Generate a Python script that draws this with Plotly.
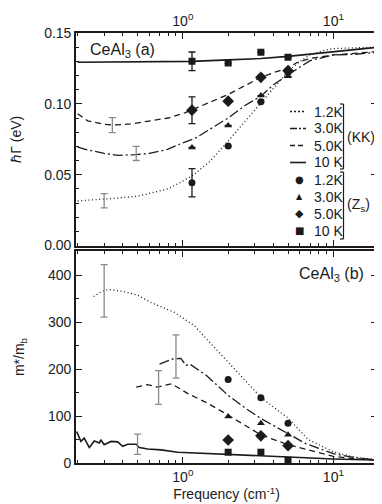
"""CeAl3 scattering rate and effective mass vs frequency (two stacked log panels)."""

import plotly.graph_objects as go

FONT = "Liberation Sans, Arial, sans-serif"
INK = "#1b1b1b"
GREY = "#8a8a8a"

# ---- panel (a): hbar*Gamma (eV) from Kramers-Kronig ----
freq_a_12 = [0.2, 0.23, 0.3, 0.37, 0.5, 0.8, 1.15, 1.5, 2.0, 2.6, 3.3, 4.0, 5.0, 6.0, 7.0, 8.5, 10, 14, 20]
gamma_kk_12 = [0.0314, 0.0318, 0.0326, 0.0335, 0.0348, 0.040, 0.049, 0.059, 0.0737, 0.088, 0.1007,
               0.1115, 0.123, 0.130, 0.1345, 0.1375, 0.139, 0.1395, 0.140]
freq_a_30 = [0.2, 0.233, 0.3, 0.37, 0.49, 0.6, 0.79, 1.0, 1.2, 1.5, 2.0, 2.6, 3.3, 4.0, 5.0, 6.0, 7.0, 10, 14, 20]
gamma_kk_30 = [0.0695, 0.0675, 0.065, 0.0636, 0.0642, 0.065, 0.0678, 0.0725, 0.0755, 0.082, 0.090,
               0.099, 0.1054, 0.1135, 0.1206, 0.126, 0.1305, 0.1345, 0.135, 0.1365]
freq_a_50 = [0.2, 0.233, 0.3, 0.34, 0.45, 0.615, 0.8, 1.03, 1.32, 2.0, 2.6, 3.3, 4.0, 5.0, 5.7, 7.0, 10, 14, 20]
gamma_kk_50 = [0.093, 0.088, 0.0855, 0.085, 0.0858, 0.0878, 0.090, 0.0936, 0.0983, 0.1066, 0.113,
               0.1187, 0.122, 0.1253, 0.129, 0.132, 0.1345, 0.1355, 0.137]
freq_a_10 = [0.2, 0.5, 1.15, 2.0, 3.3, 5.0, 7.0, 10, 14, 20]
gamma_kk_10 = [0.1293, 0.1296, 0.130, 0.131, 0.132, 0.1335, 0.135, 0.137, 0.1385, 0.140]

# surface impedance (Zs) points
freq_zs_a = [1.15, 2.0, 3.3, 5.0]
gamma_zs_12 = [0.0443, 0.0702, 0.1014, 0.1225]
gamma_zs_30 = [0.0692, 0.0847, 0.1058, 0.1194]
gamma_zs_50 = [0.0955, 0.1019, 0.1187, 0.1234]
gamma_zs_10 = [0.1300, 0.1288, 0.1364, 0.1328]
gamma_zs_err_12 = [0.0100, None, None, None]
gamma_zs_err_30 = [None, None, None, None]
gamma_zs_err_50 = [0.0094, None, None, None]
gamma_zs_err_10 = [0.0066, None, None, None]

# representative error bars on the KK curves (1.2K, 3.0K, 5.0K)
gamma_bar_freq = [0.30, 0.49, 0.34]
gamma_bar_val = [0.0316, 0.0650, 0.0850]
gamma_bar_err = [0.0050, 0.0050, 0.0053]

# ---- panel (b): m*/m_b ----
freq_b_12 = [0.255, 0.29, 0.325, 0.41, 0.5, 0.615, 0.88, 1.2, 1.5, 2.0, 2.6, 3.3, 4.0, 5.0, 6.8, 10, 14, 20]
mass_kk_12 = [355, 366, 370, 365, 358, 342, 321, 292, 258, 215, 175, 140, 119, 96, 50, 24, 12, 7]
freq_b_30 = [0.70, 0.78, 0.86, 0.97, 1.05, 1.11, 1.43, 2.0, 2.6, 3.3, 5.0, 6.5, 10, 14, 20]
mass_kk_30 = [211, 217, 222, 223, 208, 211, 187, 144, 117, 95, 63, 42, 20, 11, 6]
freq_b_50 = [0.49, 0.58, 0.68, 0.84, 1.08, 1.47, 2.0, 2.6, 3.3, 5.0, 6.8, 10, 14, 20]
mass_kk_50 = [162, 167, 162, 169, 148, 127, 102, 80, 60, 39, 28, 14, 9, 6]
freq_b_10 = [0.197, 0.21, 0.221, 0.239, 0.258, 0.279, 0.285, 0.30, 0.333, 0.369, 0.398, 0.43, 0.489,
             0.514, 0.585, 0.717, 0.926, 1.32, 1.63, 2.0, 3.3, 5.0, 10, 20]
mass_kk_10 = [67, 46, 53, 33, 47, 42.5, 49.6, 39, 46, 45, 35.5, 40, 40, 33, 30, 28, 23, 21, 19, 18,
              15, 12, 8.5, 6]

freq_zs_b = [2.0, 3.3, 5.0]
mass_zs_12 = [178, 139, 85]
mass_zs_30 = [99, 85, 60]
mass_zs_50 = [49, 58, 37]
mass_zs_10 = [23, 23, 6]

mass_bar_freq = [0.30, 0.90, 0.69, 0.50]
mass_bar_val = [367, 227, 161, 40]
mass_bar_err = [56, 46, 36, 21.5]

temps = ["1.2K", "3.0K", "5.0K", "10 K"]
dashes = ["1px,2.6px", "10px,3px,2px,3px", "6px,4px", "solid"]
legend_dashes = ["2px,2px", "7px,2px,2px,2px", "5px,3px", "solid"]
symbols = ["circle", "triangle-up", "diamond", "square"]
symbol_sizes = [7, 7, 9, 7]
glyphs = ["\u25cf", "\u25b2", "\u25c6", "\u25a0"]
glyph_sizes = [10, 8, 11, 10]

# plot-area geometry (pixels) used to place the hand-made legend
L, R, T, B = 68, 369, 25, 455


def px(x):
    return (x - L) / (R - L)


def py(y):
    return (B - y) / (B - T)


fig = go.Figure()

kk_a = [(freq_a_12, gamma_kk_12), (freq_a_30, gamma_kk_30), (freq_a_50, gamma_kk_50), (freq_a_10, gamma_kk_10)]
kk_b = [(freq_b_12, mass_kk_12), (freq_b_30, mass_kk_30), (freq_b_50, mass_kk_50), (freq_b_10, mass_kk_10)]
zs_a = [gamma_zs_12, gamma_zs_30, gamma_zs_50, gamma_zs_10]
zs_a_err = [gamma_zs_err_12, gamma_zs_err_30, gamma_zs_err_50, gamma_zs_err_10]
zs_b = [mass_zs_12, mass_zs_30, mass_zs_50, mass_zs_10]

for i in range(4):
    width = 1.6 if dashes[i] == "solid" else 1.3
    fig.add_trace(go.Scatter(x=kk_a[i][0], y=kk_a[i][1], mode="lines", xaxis="x2", yaxis="y2",
                             line=dict(color=INK, width=width, dash=dashes[i]), showlegend=False))
    fig.add_trace(go.Scatter(x=kk_b[i][0], y=kk_b[i][1], mode="lines", xaxis="x", yaxis="y",
                             line=dict(color=INK, width=width, dash=dashes[i]), showlegend=False))

# grey error bars sitting on the KK curves
fig.add_trace(go.Scatter(x=gamma_bar_freq, y=gamma_bar_val, mode="markers", xaxis="x2", yaxis="y2",
                         marker=dict(size=1, color="rgba(0,0,0,0)"),
                         error_y=dict(type="data", array=gamma_bar_err, color=GREY, thickness=1.3, width=3.5),
                         showlegend=False))
fig.add_trace(go.Scatter(x=mass_bar_freq, y=mass_bar_val, mode="markers", xaxis="x", yaxis="y",
                         marker=dict(size=1, color="rgba(0,0,0,0)"),
                         error_y=dict(type="data", array=mass_bar_err, color=GREY, thickness=1.3, width=3.5),
                         showlegend=False))

for i in range(4):
    fig.add_trace(go.Scatter(x=freq_zs_a, y=zs_a[i], mode="markers", xaxis="x2", yaxis="y2",
                             marker=dict(symbol=symbols[i], size=symbol_sizes[i], color=INK),
                             error_y=dict(type="data", array=zs_a_err[i], color=INK, thickness=1.3, width=3.5),
                             showlegend=False))
    fig.add_trace(go.Scatter(x=freq_zs_b, y=zs_b[i], mode="markers", xaxis="x", yaxis="y",
                             marker=dict(symbol=symbols[i], size=symbol_sizes[i], color=INK),
                             showlegend=False))

# hand-drawn legend: line samples, marker glyphs, brackets
shapes = []
annotations = []
row_y = [103.5 + 17 * k for k in range(8)]
for i in range(4):
    yk = py(row_y[i])
    shapes.append(dict(type="line", xref="paper", yref="paper", x0=px(282), x1=px(298), y0=yk, y1=yk,
                       line=dict(color=INK, width=1.6 if i == 3 else 1.3, dash=legend_dashes[i])))
    annotations.append(dict(x=px(304), y=yk, xref="paper", yref="paper", text=temps[i], showarrow=False,
                            xanchor="left", yanchor="middle", font=dict(size=14, family=FONT, color=INK)))
    ym = py(row_y[i + 4])
    annotations.append(dict(x=px(291), y=ym, xref="paper", yref="paper", text=glyphs[i], showarrow=False,
                            xanchor="center", yanchor="middle",
                            font=dict(size=glyph_sizes[i], family="DejaVu Sans", color=INK)))
    annotations.append(dict(x=px(304), y=ym, xref="paper", yref="paper", text=temps[i], showarrow=False,
                            xanchor="left", yanchor="middle", font=dict(size=14, family=FONT, color=INK)))

for (y0, y1) in [(96, 161), (164, 231)]:
    for seg in [(px(332), px(335.5), py(y0), py(y0)), (px(335.5), px(335.5), py(y0), py(y1)),
                (px(332), px(335.5), py(y1), py(y1))]:
        shapes.append(dict(type="line", xref="paper", yref="paper", x0=seg[0], x1=seg[1], y0=seg[2], y1=seg[3],
                           line=dict(color=INK, width=1.2)))

annotations += [
    dict(x=px(337), y=py(129), xref="paper", yref="paper", text="(KK)", showarrow=False,
         xanchor="left", yanchor="middle", font=dict(size=14, family=FONT, color=INK)),
    dict(x=px(337), y=py(197), xref="paper", yref="paper", text="(Z<sub>s</sub>)", showarrow=False,
         xanchor="left", yanchor="middle", font=dict(size=14, family=FONT, color=INK)),
    dict(x=px(80), y=py(42), xref="paper", yref="paper", text="CeAl<sub>3</sub> (a)", showarrow=False,
         xanchor="left", yanchor="middle", font=dict(size=16, family=FONT, color=INK)),
    dict(x=px(358), y=py(266), xref="paper", yref="paper", text="CeAl<sub>3</sub> (b)", showarrow=False,
         xanchor="right", yanchor="middle", font=dict(size=16, family=FONT, color=INK)),
]

minor_x = [0.2, 0.3, 0.4, 0.5, 0.6, 0.7, 0.8, 0.9, 2, 3, 4, 5, 6, 7, 8, 9]
xaxis_common = dict(
    type="log", range=[-0.71, 1.29], tickvals=[1, 10], ticktext=["10<sup>0</sup>", "10<sup>1</sup>"],
    ticks="inside", ticklen=6, tickwidth=1.2, tickcolor=INK,
    minor=dict(tickvals=minor_x, ticks="inside", ticklen=3, tickwidth=1, tickcolor=INK),
    showline=True, linecolor=INK, linewidth=1.6, mirror="allticks", showgrid=False, zeroline=False,
    tickfont=dict(size=14, family=FONT, color=INK), automargin=False,
)
yaxis_common = dict(
    ticks="inside", ticklen=6, tickwidth=1.2, tickcolor=INK,
    showline=True, linecolor=INK, linewidth=1.6, mirror="allticks", showgrid=False, zeroline=False,
    tickfont=dict(size=14, family=FONT, color=INK), automargin=False,
)

fig.update_layout(
    width=382, height=504,
    margin=dict(l=L, r=382 - R, t=T, b=504 - B),
    paper_bgcolor="white", plot_bgcolor="white",
    font=dict(family=FONT, size=14, color=INK),
    showlegend=False,
    xaxis=dict(xaxis_common, anchor="y", domain=[0, 1],
               title=dict(text="Frequency (cm<sup>-1</sup>)", font=dict(size=14), standoff=6)),
    xaxis2=dict(xaxis_common, anchor="y2", side="top", matches="x"),
    yaxis=dict(yaxis_common, anchor="x", domain=[0, 212 / 430], range=[0, 452],
               tickvals=[0, 100, 200, 300, 400],
               minor=dict(dtick=50, ticks="inside", ticklen=3, tickwidth=1, tickcolor=INK),
               title=dict(text="m*/m<sub>b</sub>", font=dict(size=14), standoff=20)),
    yaxis2=dict(yaxis_common, anchor="x2", domain=[217.5 / 430, 1], range=[0, 0.15],
                tickvals=[0, 0.05, 0.10, 0.15], tickformat=".2f",
                minor=dict(dtick=0.01, ticks="inside", ticklen=3, tickwidth=1, tickcolor=INK),
                title=dict(text="\u210fΓ (eV)", font=dict(size=14), standoff=22)),
    shapes=shapes,
    annotations=annotations,
)

fig.write_html("out.html")
